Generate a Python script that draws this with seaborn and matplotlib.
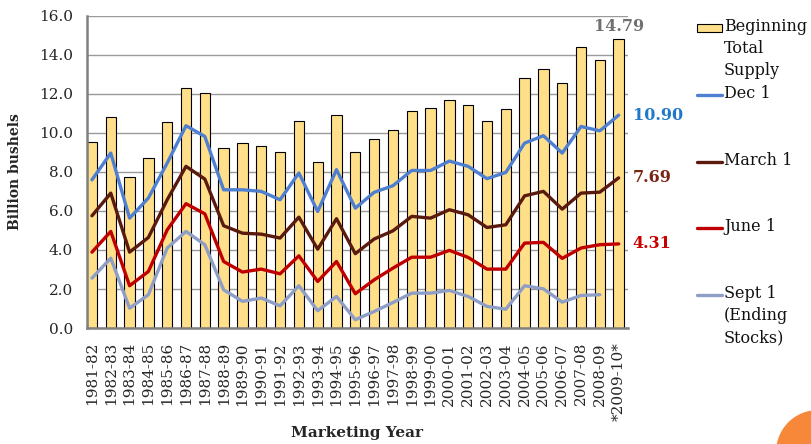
import numpy as np
import pandas as pd
import matplotlib
matplotlib.use("Agg")
import matplotlib.pyplot as plt
import seaborn as sns
from matplotlib.lines import Line2D
from matplotlib.patches import Rectangle, Circle

years = ["1981-82", "1982-83", "1983-84", "1984-85", "1985-86", "1986-87", "1987-88",
         "1988-89", "1989-90", "1990-91", "1991-92", "1992-93", "1993-94", "1994-95",
         "1995-96", "1996-97", "1997-98", "1998-99", "1999-00", "2000-01", "2001-02",
         "2002-03", "2003-04", "2004-05", "2005-06", "2006-07", "2007-08", "2008-09",
         "*2009-10*"]

supply = [9.52, 10.80, 7.71, 8.69, 10.55, 12.29, 12.03, 9.21, 9.47, 9.30, 9.03, 10.60,
          8.50, 10.92, 8.99, 9.68, 10.12, 11.11, 11.26, 11.69, 11.42, 10.60, 11.21,
          12.80, 13.26, 12.53, 14.39, 13.74, 14.79]

dec1 = [7.59, 8.96, 5.63, 6.66, 8.45, 10.36, 9.81, 7.08, 7.08, 7.00, 6.57, 7.94, 5.97,
        8.11, 6.14, 6.95, 7.29, 8.07, 8.07, 8.55, 8.28, 7.65, 7.97, 9.47, 9.85, 8.96,
        10.32, 10.10, 10.90]

march1 = [5.75, 6.91, 3.89, 4.64, 6.57, 8.28, 7.63, 5.24, 4.86, 4.81, 4.61, 5.68, 4.04,
          5.60, 3.81, 4.56, 4.98, 5.72, 5.63, 6.06, 5.80, 5.15, 5.29, 6.77, 7.00, 6.09,
          6.91, 6.96, 7.69]

june1 = [3.89, 4.95, 2.17, 2.90, 5.03, 6.37, 5.85, 3.41, 2.87, 3.02, 2.78, 3.70, 2.39,
         3.41, 1.76, 2.47, 3.07, 3.63, 3.63, 3.98, 3.62, 3.02, 3.02, 4.35, 4.39, 3.57,
         4.10, 4.27, 4.31]

sept1 = [2.56, 3.58, 1.02, 1.71, 4.10, 4.95, 4.27, 1.96, 1.37, 1.54, 1.14, 2.17, 0.89,
         1.62, 0.43, 0.85, 1.31, 1.79, 1.79, 1.93, 1.62, 1.11, 0.97, 2.17, 2.01, 1.33,
         1.67, 1.71, np.nan]

series_names = ["Dec 1", "March 1", "June 1", "Sept 1"]
series_vals = [dec1, march1, june1, sept1]
series_colors = ["#4F7FD0", "#5A1A0E", "#C00000", "#8E9EC6"]
end_labels = ["10.90", "7.69", "4.31", None]
end_colors = ["#1F78C8", "#7B2414", "#C80000", None]
legend_labels = ["Beginning\nTotal\nSupply", "Dec 1", "March 1", "June 1",
                 "Sept 1\n(Ending\nStocks)"]

sns.set_theme(style="white")
plt.rcParams["font.family"] = ["DejaVu Serif"]

fig = plt.figure(figsize=(8.12, 4.44), dpi=100)
ax = fig.add_axes([0.107, 0.261, 0.666, 0.704])

bar_color = "#FFDF8A"
bar_df = pd.DataFrame({"year": years, "supply": supply})
sns.barplot(data=bar_df, x="year", y="supply", color=bar_color, edgecolor="black",
            linewidth=0.8, width=0.55, saturation=1, ax=ax, zorder=2)

pos = np.arange(len(years))
for name, vals, col in zip(series_names, series_vals, series_colors):
    ldf = pd.DataFrame({"pos": pos, "v": vals}).dropna()
    sns.lineplot(data=ldf, x="pos", y="v", color=col, linewidth=2.4, ax=ax, zorder=3)

# end labels
last = len(years) - 1
for vals, lab, col in zip(series_vals, end_labels, end_colors):
    if lab is None:
        continue
    ax.annotate(lab, xy=(last, vals[last]), xytext=(10, 0), textcoords="offset points",
                ha="left", va="center", fontsize=11.5, fontweight="bold", color=col,
                annotation_clip=False)
ax.annotate(f"{supply[last]:.2f}", xy=(last, supply[last]), xytext=(0, 3),
            textcoords="offset points", ha="center", va="bottom", fontsize=11.5,
            fontweight="bold", color="#707070", annotation_clip=False)

ax.set_ylim(0, 16)
ax.set_xlim(-0.27, len(years) - 0.52)
ticks = np.arange(0, 16.1, 2)
ax.set_yticks(ticks)
ax.set_yticklabels([f"{t:.1f}" for t in ticks], fontsize=11)
ax.set_xticks(pos)
ax.set_xticklabels(years, rotation=90, fontsize=11)
ax.tick_params(axis="y", length=0, pad=10)
ax.tick_params(axis="x", length=0, pad=10)
ax.yaxis.grid(True, color="#9A9A9A", linewidth=1.0, zorder=0)
ax.set_axisbelow(True)
for s in ["top", "right"]:
    ax.spines[s].set_visible(False)
for s in ["left", "bottom"]:
    ax.spines[s].set_color("#808080")
    ax.spines[s].set_linewidth(1.8)
ax.set_ylabel("Billion bushels", fontsize=10, fontweight="bold", labelpad=12)
ax.set_xlabel("Marketing Year", fontsize=11, fontweight="bold", labelpad=4)

# legend (drawn in figure space)
W, H = 812.0, 444.0
entry_y = [28, 95, 162, 228, 295]
hx0, hx1, tx = 697, 722, 724
fig.patches.append(Rectangle((hx0 / W, 1 - 32 / H), (hx1 - hx0) / W, 8 / H,
                             transform=fig.transFigure, facecolor=bar_color,
                             edgecolor="black", linewidth=0.8))
for y, col in zip(entry_y[1:], series_colors):
    fig.lines.append(Line2D([hx0 / W, hx1 / W], [1 - y / H, 1 - y / H],
                            transform=fig.transFigure, color=col, linewidth=2.4))
for y, lab in zip(entry_y, legend_labels):
    fig.text(tx / W, 1 - (y - 10) / H, lab, ha="left", va="top", fontsize=11.5,
             linespacing=1.4, color="#111111")

# decorative corner circle (bottom-right)
fig.patches.append(Circle((8.18, -0.08), 0.42, transform=fig.dpi_scale_trans,
                          facecolor="#F7883A", edgecolor="none"))

fig.savefig("out.png", dpi=100)
